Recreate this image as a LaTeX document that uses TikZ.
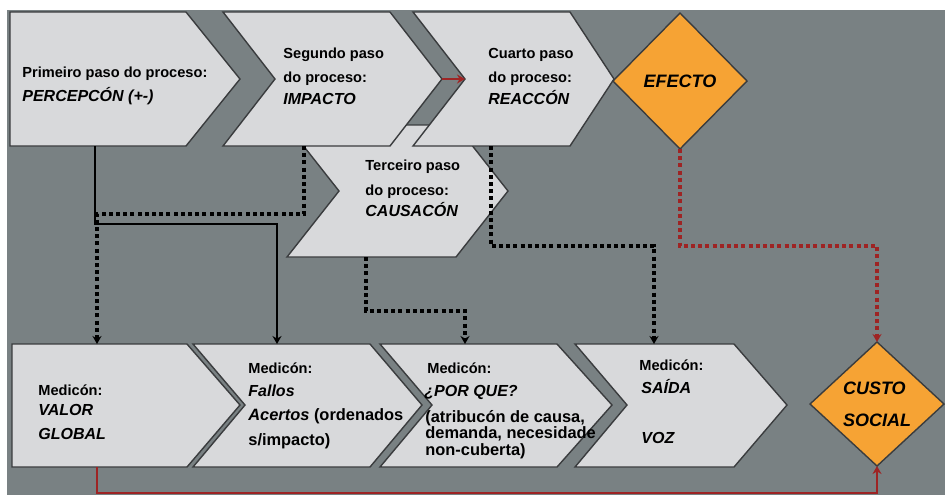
\documentclass[tikz,border=0pt]{standalone}
\usepackage{fontspec}
\setmainfont{Liberation Sans}
\usetikzlibrary{arrows.meta, shapes.geometric}

\definecolor{panelgray}{RGB}{121,129,131}
\definecolor{chevfill}{RGB}{216,217,219}
\definecolor{edgegray}{RGB}{58,60,62}
\definecolor{effectorange}{RGB}{246,163,52}
\definecolor{darkred}{RGB}{158,36,36}

\begin{document}
\begin{tikzpicture}[x=0.5pt,y=-0.5pt,line join=miter,
  chev/.style={fill=chevfill,draw=edgegray,line width=0.7pt},
  effect/.style={diamond,fill=effectorange,draw=edgegray,line width=0.7pt,
    inner sep=0pt,outer sep=0pt,minimum width=67pt,
    font=\fontsize{9}{16}\selectfont\bfseries\itshape,align=left},
  lbl/.style={anchor=base west,inner sep=0pt,font=\fontsize{7.3}{9}\selectfont\bfseries},
  keyword/.style={lbl,font=\fontsize{8}{9}\selectfont\bfseries\itshape},
  paren/.style={lbl,font=\fontsize{8.2}{9}\selectfont\bfseries},
  solidline/.style={line width=0.8pt},
  dotline/.style={line width=1.6pt,dash pattern=on 2pt off 1.6pt},
  reddot/.style={dotline,draw=darkred},
  redline/.style={line width=1pt,draw=darkred},
  >={Stealth[length=4pt,width=4.5pt]}]
  \useasboundingbox (0,0) rectangle (945,495);
  \fill[white] (0,0) rectangle (945,495);
  \fill[panelgray] (7,10) rectangle (945,495);
  % ---- third step sits behind the top row ----------------------------------
  \draw[chev] (287,125) -- (456,125) -- (508,191) -- (456,257) -- (287,257) -- (339,191) -- cycle;
  % ---- top row: process steps ----------------------------------------------
  \draw[chev] (10,12) -- (186,12) -- (240,79) -- (186,146) -- (10,146) -- cycle;
  \draw[chev] (223,12) -- (390,12) -- (442,79) -- (390,146) -- (223,146) -- (275,79) -- cycle;
  \draw[chev] (413,12) -- (570,12) -- (614,79) -- (570,146) -- (413,146) -- (465,79) -- cycle;
  \node[effect,minimum height=68pt] (efecto) at (680,81) {EFECTO};
  % ---- bottom row: measurements --------------------------------------------
  \draw[chev] (12,344) -- (187,344) -- (240,405) -- (187,467) -- (12,467) -- cycle;
  \draw[chev] (193,344) -- (370,344) -- (422,405) -- (370,467) -- (193,467) -- (245,405) -- cycle;
  \draw[chev] (380,344) -- (557,344) -- (612,405) -- (557,467) -- (380,467) -- (432,405) -- cycle;
  \draw[chev] (575,344) -- (734,344) -- (787,405) -- (734,467) -- (575,467) -- (627,405) -- cycle;
  \node[effect,minimum height=62pt] (custo) at (877,404) {CUSTO\\SOCIAL};
  % ---- connector ends ------------------------------------------------------
  \coordinate (t1s) at (95,146);
  \coordinate (t2s) at (304,146);
  \coordinate (t2e) at (442,79);
  \coordinate (t3w) at (465,79);
  \coordinate (t3s) at (491,146);
  \coordinate (tcs) at (366,257);
  \coordinate (b1n) at (97,344);
  \coordinate (b2n) at (277,344);
  \coordinate (b3n) at (465,344);
  \coordinate (b4n) at (654,344);
  \coordinate (b1s) at (97,467);
  % ---- connectors ----------------------------------------------------------
  \draw[solidline,->] (t1s) -- ++(0,78) -| (b2n);
  \draw[dotline,->] (t2s) -- ++(0,68) -| (b1n);
  \draw[dotline,->] (tcs) -- ++(0,54) -| (b3n);
  \draw[dotline,->] (t3s) -- ++(0,100) -| (b4n);
  \draw[reddot,->] (efecto.south) -- ++(0,97) -| (custo.north);
  \draw[redline,->] (t2e) -- (t3w);
  \draw[redline,->] (b1s) -- ++(0,26) -| (custo.south);
  % ---- texts, top row ------------------------------------------------------
  \node[lbl] (t1a) at (22,77) {Primeiro paso do proceso:};
  \node[keyword] (t1b) at (22,101) {PERCEPCÓN (+-)};
  \node[lbl] (t2a) at (283,58) {Segundo paso};
  \node[lbl] (t2b) at (283,82) {do proceso:};
  \node[keyword] (t2c) at (283,104) {IMPACTO};
  \node[lbl] (t3a) at (488,58) {Cuarto paso};
  \node[lbl] (t3b) at (488,82) {do proceso:};
  \node[keyword] (t3c) at (488,104) {REACCÓN};
  \node[lbl] (tca) at (365,170) {Terceiro paso};
  \node[lbl] (tcb) at (365,195) {do proceso:};
  \node[keyword] (tcc) at (365,216) {CAUSACÓN};
  % ---- texts, bottom row ---------------------------------------------------
  \node[lbl] (b1a) at (38,395) {Medicón:};
  \node[keyword] (b1b) at (38,415) {VALOR};
  \node[keyword] (b1c) at (38,439) {GLOBAL};
  \node[lbl] (b2a) at (248,373) {Medicón:};
  \node[keyword] (b2b) at (248,396) {Fallos};
  \node[paren] (b2c) at (248,420) {\textit{Acertos} (ordenados};
  \node[paren] (b2d) at (248,445) {s/impacto)};
  \node[lbl] (b3a) at (427,373) {Medicón:};
  \node[keyword] (b3b) at (424,396) {¿POR QUE?};
  \node[paren] (b3c) at (425,422) {(atribucón de causa,};
  \node[paren] (b3d) at (425,438) {demanda, necesidade};
  \node[paren] (b3e) at (425,455) {non-cuberta)};
  \node[lbl] (b4a) at (639,370) {Medicón:};
  \node[keyword] (b4b) at (641,393) {SAÍDA};
  \node[keyword] (b4c) at (641,443) {VOZ};
\end{tikzpicture}
\end{document}
